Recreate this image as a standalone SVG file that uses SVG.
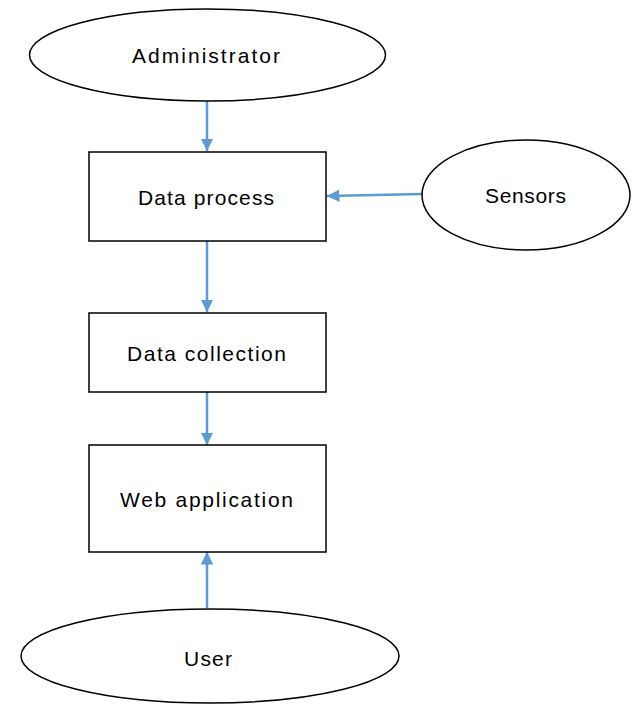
<svg xmlns="http://www.w3.org/2000/svg" width="637" height="704" viewBox="0 0 637 704">
<style>
.shape{fill:#fff;stroke:#000;stroke-width:1.5}
.lbl{font-family:"Liberation Sans",Arial,sans-serif;font-size:21px;fill:#000;text-anchor:middle}
.conn{stroke:#5B9BD5;stroke-width:2.5;fill:none}
</style>
<defs>
<marker id="ah" viewBox="0 0 10 10" refX="10" refY="5" markerWidth="5" markerHeight="5" orient="auto" markerUnits="strokeWidth">
<path d="M0,0 L10,5 L0,10 z" fill="#5B9BD5"/>
</marker>
</defs>
<rect width="637" height="704" fill="#fff"/>
<g id="connectors">
<line class="conn" x1="207" y1="101" x2="207" y2="151" marker-end="url(#ah)"/>
<line class="conn" x1="422" y1="194" x2="327" y2="196" marker-end="url(#ah)"/>
<line class="conn" x1="207" y1="241" x2="207" y2="312" marker-end="url(#ah)"/>
<line class="conn" x1="207" y1="392" x2="207" y2="445" marker-end="url(#ah)"/>
<line class="conn" x1="207" y1="608" x2="207" y2="552" marker-end="url(#ah)"/>
</g>
<g id="administrator">
<ellipse class="shape" cx="207.5" cy="55" rx="178" ry="46"/>
<text class="lbl" x="206" y="63" textLength="148" lengthAdjust="spacing">Administrator</text>
</g>
<g id="data-process">
<rect class="shape" x="89" y="152" width="237" height="89"/>
<text class="lbl" x="206" y="205" textLength="136" lengthAdjust="spacing">Data process</text>
</g>
<g id="sensors">
<ellipse class="shape" cx="526" cy="195" rx="104" ry="55"/>
<text class="lbl" x="525.5" y="203" textLength="81" lengthAdjust="spacing">Sensors</text>
</g>
<g id="data-collection">
<rect class="shape" x="89" y="313" width="237" height="79"/>
<text class="lbl" x="206.5" y="361" textLength="159" lengthAdjust="spacing">Data collection</text>
</g>
<g id="web-application">
<rect class="shape" x="89" y="445" width="237" height="107"/>
<text class="lbl" x="206.5" y="507" textLength="173" lengthAdjust="spacing">Web application</text>
</g>
<g id="user">
<ellipse class="shape" cx="210" cy="656" rx="189" ry="47"/>
<text class="lbl" x="208" y="666" textLength="48" lengthAdjust="spacing">User</text>
</g>
</svg>
